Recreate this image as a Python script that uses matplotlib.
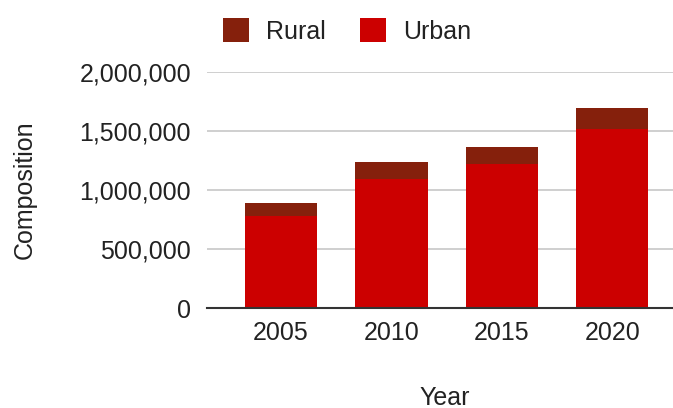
import matplotlib
matplotlib.use("Agg")
import matplotlib.pyplot as plt
from matplotlib.ticker import FuncFormatter

# population composition by year
years = ["2005", "2010", "2015", "2020"]
urban = [781000, 1091000, 1220000, 1513000]
rural = [108000, 144000, 144000, 183000]

plt.rcParams["font.family"] = ["Liberation Sans", "DejaVu Sans"]

fig = plt.figure(figsize=(6.73, 4.08), dpi=100)
ax_h = 236.6 / 408
ax = fig.add_axes([207 / 673, 99.7 / 408, 1 - 207 / 673, ax_h])

x = range(len(years))
ax.bar(x, urban, width=0.655, color="#cc0000", label="Urban", zorder=3)
ax.bar(x, rural, width=0.655, bottom=urban, color="#85200c", label="Rural", zorder=3)

ax.set_ylim(0, 2000000)
ax.set_xlim(-0.67, 3.55)
ax.set_yticks([0, 500000, 1000000, 1500000, 2000000])
ax.yaxis.set_major_formatter(FuncFormatter(lambda v, p: "{:,.0f}".format(v)))
ax.set_xticks(list(x))
ax.set_xticklabels(years)

ax.grid(axis="y", color="#cccccc", linewidth=1.3, zorder=0)
for s in ["top", "right", "left"]:
    ax.spines[s].set_visible(False)
ax.spines["bottom"].set_color("#333333")
ax.spines["bottom"].set_linewidth(1.5)
ax.spines["bottom"].set_zorder(4)

ax.tick_params(axis="both", length=0, labelsize=18, colors="#222222")
ax.tick_params(axis="y", pad=11.5)
ax.tick_params(axis="x", pad=9)

ax.set_ylabel("Composition", fontsize=18, color="#222222", labelpad=31)
ax.set_xlabel("Year", fontsize=18, color="#222222")
# x label sits low, centred a little right of the axes middle
ax.xaxis.set_label_coords((445 - 207) / (673 - 207), -78 / 236.6)

h, l = ax.get_legend_handles_labels()
fig.legend(h[::-1], l[::-1], loc="center", bbox_to_anchor=(347 / 673, 0.924),
           ncol=2, frameon=False, fontsize=18, handlelength=1.04, handleheight=1.04,
           handletextpad=0.68, columnspacing=1.4, labelcolor="#222222")

fig.savefig("out.png", dpi=100)
